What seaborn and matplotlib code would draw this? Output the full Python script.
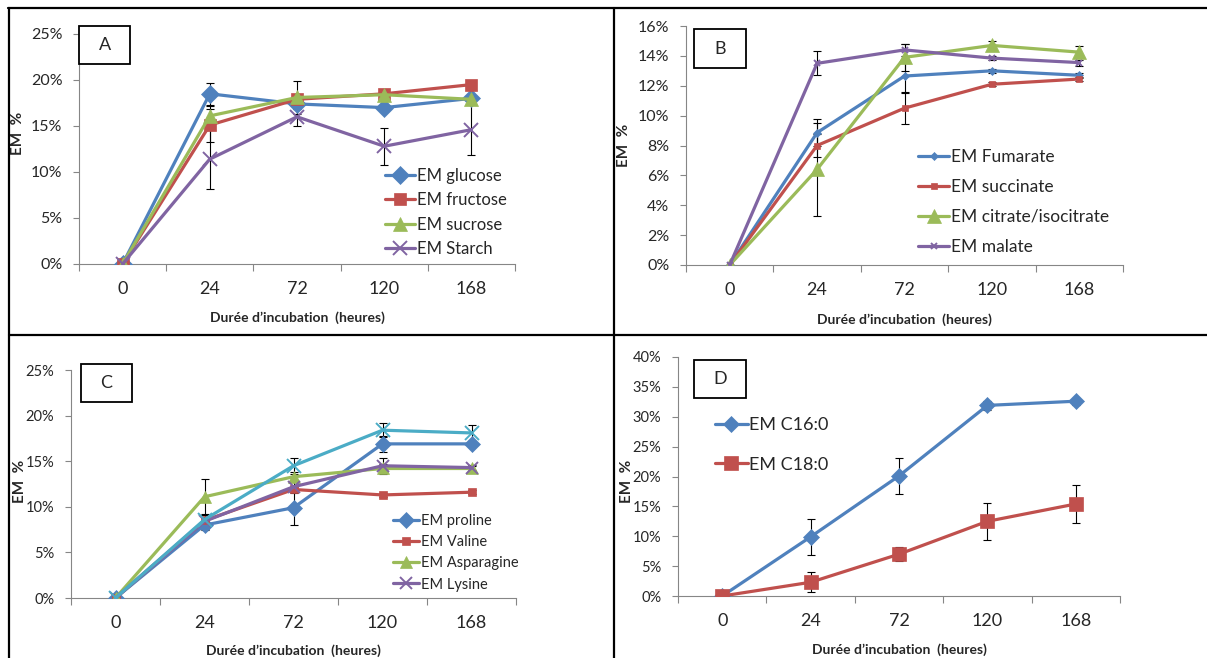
import matplotlib
matplotlib.use("Agg")
import matplotlib.pyplot as plt
import seaborn as sns
import numpy as np
from matplotlib.patches import Rectangle
from matplotlib.lines import Line2D

sns.set_style("ticks")
plt.rcParams["font.family"] = ["Lato", "DejaVu Sans"]

# ---------------------------------------------
# Données (EM %, moyenne et écart)
# ---------------------------------------------
heures = ["0", "24", "72", "120", "168"]

# A - sucres
glucose = [0, 18.5, 17.4, 17.0, 18.0]
glucose_err = [0, 1.2, 0.6, 0.4, 0.5]
fructose = [0, 15.1, 17.9, 18.5, 19.5]
fructose_err = [0, 1.8, 0.4, 0.3, 0.3]
sucrose = [0, 16.1, 18.1, 18.4, 17.9]
sucrose_err = [0, 1.1, 1.8, 0.3, 0.4]
starch = [0, 11.4, 16.0, 12.8, 14.6]
starch_err = [0, 3.2, 1.0, 2.0, 2.8]

# B - acides organiques
fumarate = [0, 8.86, 12.65, 13.0, 12.7]
fumarate_err = [0, 0.9, 1.15, 0.15, 0.15]
succinate = [0, 8.0, 10.5, 12.1, 12.45]
succinate_err = [0, 0.8, 1.05, 0.15, 0.15]
citrate = [0, 6.4, 13.9, 14.7, 14.25]
citrate_err = [0, 3.1, 0.9, 0.3, 0.4]
malate = [0, 13.5, 14.4, 13.85, 13.55]
malate_err = [0, 0.8, 0.4, 0.15, 0.2]

# C - acides aminés
proline = [0, 8.0, 9.9, 16.9, 16.9]
proline_err = [0, 0.5, 1.95, 0.9, 0.3]
valine = [0, 8.5, 11.9, 11.3, 11.6]
valine_err = [0, 0.3, 0.3, 0.2, 0.2]
asparagine = [0, 11.1, 13.3, 14.2, 14.2]
asparagine_err = [0, 2.0, 0.5, 0.5, 0.3]
lysine = [0, 8.4, 12.2, 14.5, 14.3]
lysine_err = [0, 0.8, 0.7, 0.9, 0.3]
serie5 = [0, 8.6, 14.5, 18.4, 18.1]
serie5_err = [0, 0.5, 0.9, 0.8, 0.9]

# D - acides gras
c16 = [0, 9.9, 20.1, 31.9, 32.6]
c16_err = [0, 3.0, 3.0, 0.7, 0.6]
c18 = [0, 2.3, 7.0, 12.5, 15.4]
c18_err = [0, 1.7, 1.2, 3.1, 3.2]

BLEU, ROUGE, VERT, VIOLET, CYAN = "#4F81BD", "#C0504D", "#9BBB59", "#8064A2", "#4BACC6"
GRIS = "#868686"
W, H = 1207, 658


def axes_px(left, right, top, bottom):
    return [left / W, 1 - bottom / H, (right - left) / W, (bottom - top) / H]


def draw_panel(ax, series, ymax, ystep, ytick_fs, letter_box, leg_pos, leg_fs, leg_space,
               ylab_xy, xlab_y):
    pos = np.arange(len(heures))
    for vals, err, label, color, marker, ms in series:
        ax.errorbar(pos, vals, yerr=err, fmt="none", ecolor="black", elinewidth=0.8,
                    capsize=3, capthick=0.8, zorder=1)
        mew = 1.4 if marker == "x" else 0.5
        sns.lineplot(x=pos, y=vals, ax=ax, color=color, marker=marker, markersize=ms,
                     markeredgecolor=color, markeredgewidth=mew, linewidth=2.3,
                     label=label, zorder=3)

    ax.set_xlim(-0.5, len(heures) - 0.5)
    ax.set_ylim(0, ymax)
    ax.set_xticks(pos)
    ax.set_xticklabels(heures, fontsize=13)
    ax.set_xticks(np.arange(-0.5, len(heures)), minor=True)
    ax.tick_params(axis="x", which="major", length=0, pad=12)
    ax.tick_params(axis="x", which="minor", length=5, color=GRIS, width=0.8)
    yt = np.arange(0, ymax + 0.01, ystep)
    ax.set_yticks(yt)
    ax.set_yticklabels([f"{v:.0f}%" for v in yt], fontsize=ytick_fs)
    ax.tick_params(axis="y", length=4, color=GRIS, width=0.8, pad=8)
    for s in ["top", "right"]:
        ax.spines[s].set_visible(False)
    for s in ["left", "bottom"]:
        ax.spines[s].set_color(GRIS)
        ax.spines[s].set_linewidth(0.8)

    ax.set_ylabel("EM  %", fontsize=11, fontweight="bold")
    ax.yaxis.set_label_coords(*ylab_xy)
    ax.set_xlabel("Durée d’incubation  (heures)", fontsize=10, fontweight="bold", va="center")
    ax.xaxis.set_label_coords(0.5, xlab_y)

    letter, x0, x1, y0, y1 = letter_box
    ax.add_patch(Rectangle((x0, y0), x1 - x0, y1 - y0, transform=ax.transAxes,
                           facecolor="white", edgecolor="black", linewidth=1.3,
                           clip_on=False, zorder=5))
    ax.text((x0 + x1) / 2, (y0 + y1) / 2, letter, transform=ax.transAxes, fontsize=13,
            ha="center", va="center", zorder=6)

    handles, labels = ax.get_legend_handles_labels()
    keep = [(h, l) for h, l in zip(handles, labels) if not l.startswith("_")]
    ax.legend([h for h, _ in keep], [l for _, l in keep], loc="upper left",
              bbox_to_anchor=leg_pos, frameon=False, fontsize=leg_fs, borderpad=0,
              borderaxespad=0, handlelength=1.8, handletextpad=0.1, labelspacing=leg_space)


fig = plt.figure(figsize=(W / 100, H / 100), dpi=100)

axA = fig.add_axes(axes_px(79, 515, 34, 264))
draw_panel(axA, [
    (glucose, glucose_err, "EM glucose", BLEU, "D", 9),
    (fructose, fructose_err, "EM fructose", ROUGE, "s", 9),
    (sucrose, sucrose_err, "EM sucrose", VERT, "^", 10),
    (starch, starch_err, "EM Starch", VIOLET, "x", 10),
], 25, 5, 11.5, ("A", 0.0, 0.117, 0.870, 1.035), (0.702, 0.418), 12, 0.5,
    (-0.124, 0.57), -0.235)

axB = fig.add_axes(axes_px(686, 1123, 26, 265))
draw_panel(axB, [
    (fumarate, fumarate_err, "EM Fumarate", BLEU, "D", 4),
    (succinate, succinate_err, "EM succinate", ROUGE, "s", 5),
    (citrate, citrate_err, "EM citrate/isocitrate", VERT, "^", 10),
    (malate, malate_err, "EM malate", VIOLET, "x", 5),
], 16, 2, 11.5, ("B", 0.018, 0.137, 0.824, 0.987), (0.531, 0.485), 12.5, 0.8,
    (-0.126, 0.50), -0.23)

axC = fig.add_axes(axes_px(71, 516, 370, 598))
draw_panel(axC, [
    (proline, proline_err, "EM proline", BLEU, "D", 8),
    (valine, valine_err, "EM Valine", ROUGE, "s", 6),
    (asparagine, asparagine_err, "EM Asparagine", VERT, "^", 9),
    (lysine, lysine_err, "EM Lysine", VIOLET, "x", 9),
    (serie5, serie5_err, "_serie5", CYAN, "x", 10),
], 25, 5, 10.5, ("C", 0.022, 0.137, 0.86, 1.026), (0.724, 0.37), 10.5, 0.5,
    (-0.099, 0.51), -0.23)

axD = fig.add_axes(axes_px(678, 1120, 357, 596))
draw_panel(axD, [
    (c16, c16_err, "EM C16:0", BLEU, "D", 8),
    (c18, c18_err, "EM C18:0", ROUGE, "s", 10),
], 40, 5, 10.5, ("D", 0.036, 0.154, 0.828, 0.987), (0.084, 0.748), 13, 1.3,
    (-0.0995, 0.48), -0.225)

# cadre des quatre panneaux
for x0, y0, x1, y1 in [(8, 8, W, 8), (9, 8, 9, H), (614, 8, 614, H), (9, 335, W, 335)]:
    fig.add_artist(Line2D([x0 / W, x1 / W], [1 - y0 / H, 1 - y1 / H],
                          color="black", linewidth=1.6, transform=fig.transFigure))

fig.savefig("out.png", dpi=100)
